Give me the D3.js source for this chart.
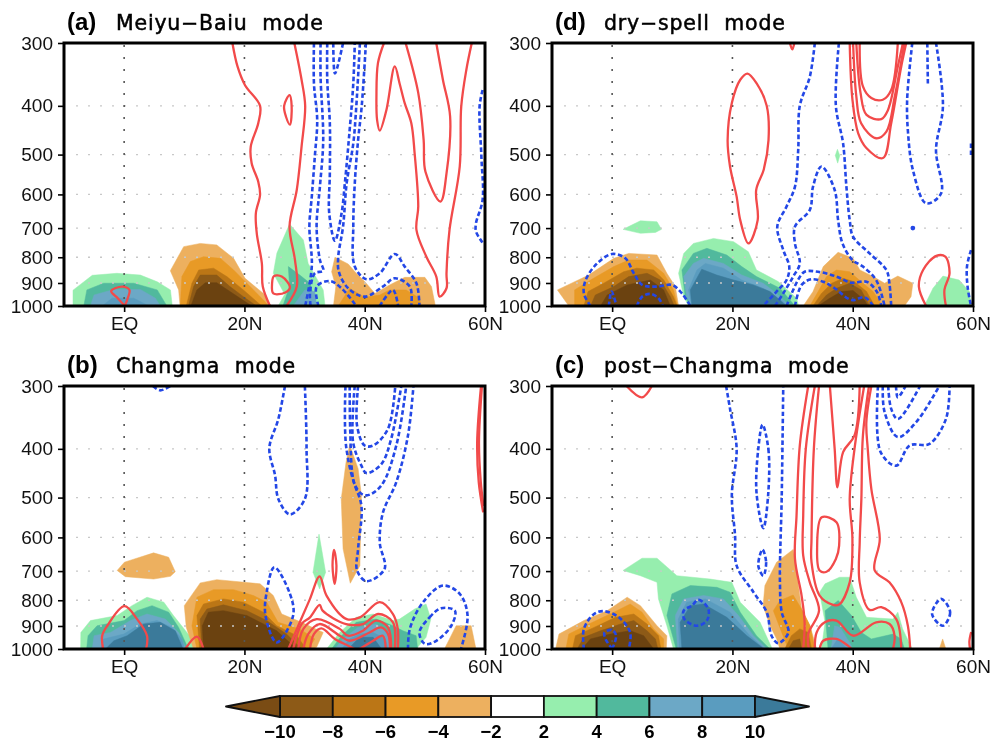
<!DOCTYPE html>
<html>
<head>
<meta charset="utf-8">
<script src="https://cdn.jsdelivr.net/npm/d3@7"></script>
<style>
  html, body { margin: 0; padding: 0; background: #fff; }
  svg { display: block; filter: blur(0.35px); }
</style>
</head>
<body>
<div id="chart"></div>
<script>
// shading classes, darkest brown to dark blue
const levelColors = ["#6b4210", "#8d5a17", "#bb7616", "#e89a26", "#edb05f", "#96eeae", "#51b99d", "#6ca8c6", "#5a9cbf", "#3b7a9a"];
const legendTicks = ["−10", "−8", "−6", "−4", "−2", "2", "4", "6", "8", "10"];
const legendBoxes = ["#8d5a17", "#bb7616", "#e89a26", "#edb05f", "#ffffff", "#96eeae", "#51b99d", "#6ca8c6", "#5a9cbf"];
const pressureTicks = [300, 400, 500, 600, 700, 800, 900, 1000];
const latTicks = [0, 20, 40, 60];
const latLabels = ["EQ", "20N", "40N", "60N"];

// every point below is [latitude, hPa]
const aFill = [
  [5, [[-8.5,1000],[-8.5,930],[-5.3,869],[-1.2,861],[2.7,868],[5.5,895],[7.7,929],[8,1000]]],
  [6, [[-6.7,1000],[-6.2,929],[-3.4,901],[1.6,901],[5.5,929],[7.1,1000]]],
  [7, [[-5.6,1000],[-5,951],[-1.7,927],[2.7,927],[5.2,965],[6,1000]]],
  [8, [[-3.65,1000],[-2,965],[1.6,965],[4.1,1000]]],
  [4, [[9.3,1000],[9.06,929],[7.68,851],[9.9,762],[12.65,751],[15.4,756],[18.2,804],[20.1,881],[23.15,944],[24.4,1000]]],
  [3, [[9.34,1000],[9.6,874],[11,816],[13.2,798],[16,804],[18.2,848],[20.4,901],[23.4,980],[24,1000]]],
  [2, [[10.33,1000],[11.27,901],[12.4,848],[14.86,841],[17.07,874],[19.83,929],[22.87,1000]]],
  [1, [[10.7,1000],[11.55,915],[12.65,868],[15.4,868],[17.6,915],[19.83,958],[22,1000]]],
  [0, [[11.1,1000],[12.1,929],[13.5,899],[15.4,899],[17.9,941],[20.1,980],[21.2,1000]]],
  [5, [[27.5,687],[29.8,739],[30.6,823],[33.1,929],[33.4,1000],[25.6,1000],[26.7,948],[24.8,861],[25.4,785]]],
  [6, [[27.3,835],[29.2,868],[30.9,901],[31.9,1000],[26.4,1000],[27.5,915]]],
  [7, [[28.1,1000],[30.05,929],[31.7,937],[32,1000]]],
  [4, [[35.05,800],[37.25,825],[38.6,861],[40,894],[41.7,944],[44.15,908],[46.65,877],[50,877],[51.1,915],[51.75,1000],[34.8,1000],[35.2,915],[34.5,855]]],
  [3, [[35.6,1000],[37.5,922],[40,961],[42.5,951],[44.15,929],[46.9,929],[49.1,965],[49.4,1000]]]
];
const aRed = [
  [[0.1,1000],[-1.05,965],[-2.15,934],[-0.33,915],[0.88,929],[0.6,965],[0.1,1000]],
  [[18,300],[18.85,334],[20.1,364],[22.6,400],[22.3,433],[21.05,482],[21.2,520],[22.3,566],[22.6,601],[21.9,654],[22.05,717],[22.9,823],[23.05,915],[24.25,1000]],
  [[28.3,300],[29.5,355],[30.1,400],[29.5,482],[28.7,588],[27.5,695],[28.4,810],[28.7,915],[27,1000]],
  [[43.2,300],[42.2,329],[41.95,383],[42.06,427],[42.5,448],[43.6,408],[45,334],[45.8,361],[46.65,395],[47.75,433],[48.3,497],[48.9,634],[48.6,706],[50.25,798],[51.9,874],[52.45,958],[53.6,922],[53.6,861],[54.1,706],[55.8,528],[56.05,401],[56.9,339],[57.8,300]],
  [[46.8,300],[48.9,377],[49.8,468],[50.1,541],[52.6,620],[53.6,545],[54.2,420],[53,355],[51.9,300]]
];
const aRedLoops = [
  [[27.5,381],[27.85,400],[27.57,436],[26.9,420],[26.6,400]],
  [[24.9,872],[26.2,874],[27.57,918],[26.7,941],[24.8,944],[24.6,901]]
];
const aBlue = [
  [[31.56,300],[31.56,361],[32.1,427],[31.7,505],[31.2,606],[30.8,695],[31.2,835],[30.1,1000]],
  [[32.66,300],[32.66,350],[33.1,468],[32.55,579],[32,695],[32.55,810],[33.1,851],[31.7,861],[30.9,944],[31,1000]],
  [[33.77,300],[33.77,355],[34.2,433],[34.2,545],[34.1,654],[35.05,742],[36.15,654],[36.7,570],[37.5,446],[38.1,361],[38.35,300]],
  [[34.77,300],[35.05,345],[36.4,300]],
  [[39.2,300],[38.6,401],[38.1,475],[37,570],[36.4,695],[35.6,798],[35.7,855],[37.25,922],[40,958],[43,915],[45,881],[47.5,915],[47.75,1000]],
  [[40.2,300],[39.5,401],[38.9,468],[38.35,570],[38.1,695],[38.35,835],[40.3,885],[42.5,861],[45,788],[46.65,835],[48.6,901],[49.1,1000]],
  [[32.3,1000],[32,915],[34.2,892],[36.15,922],[38.6,1000]],
  [[42.5,1000],[44.7,929],[45.55,1000]],
  [[59.6,372],[59.1,401],[59.4,505],[59.6,615],[58.5,685],[58.5,711],[59.75,753]]
];
const aBlueLoops = [];

const bFill = [
  [4, [[-1.16,698],[0.05,672],[4.9,644],[7.4,657],[8.5,702],[7.7,717],[4.9,726],[0.2,718]]],
  [4, [[37.5,393],[38.9,438],[39.45,495],[39.2,683],[37.6,740],[36.4,632],[36.1,503],[36.9,425]]],
  [5, [[32.4,591],[33.5,704],[32.5,760],[31.4,704]]],
  [5, [[-7.24,1000],[-7.2,927],[-5.6,878],[-1.16,858],[1.3,820],[3.8,789],[6.6,807],[8.2,858],[11.3,955],[11.55,1000]]],
  [6, [[-6.24,1000],[-6,941],[-4.5,899],[0,878],[2.15,839],[4.64,820],[7.4,845],[9.06,906],[10.44,985],[10.9,1000]]],
  [7, [[-5.3,1000],[-5,941],[-2.26,927],[1.05,878],[3.8,852],[6.85,872],[9.06,927],[10.33,1000]]],
  [8, [[-3.9,1000],[-3.4,955],[-0.05,934],[2.7,892],[5.47,878],[7.96,906],[9.6,955],[10.05,1000]]],
  [9, [[-3.1,1000],[-1.7,963],[0.5,941],[3.26,892],[6,885],[8.5,920],[9.8,1000]]],
  [4, [[11.55,1000],[10.33,906],[10,820],[12.65,739],[15.4,728],[22.6,742],[24.8,783],[26.2,852],[29.5,885],[33.1,927],[32,992],[31.4,1000]]],
  [3, [[12.1,1000],[11.27,899],[12.1,789],[14.86,762],[18.2,762],[21.5,783],[23.7,807],[25.6,885],[29.2,912],[31.7,955],[30.6,1000]]],
  [2, [[12.54,1000],[12.1,858],[13.2,814],[16.5,795],[19.8,807],[23.15,845],[25.36,899],[28.7,941],[30.3,1000]]],
  [1, [[12.9,1000],[12.65,872],[13.76,833],[16.5,817],[20.4,839],[23.7,878],[27,934],[29.5,1000]]],
  [0, [[13.2,1000],[13,899],[14,845],[16.5,839],[20.4,858],[25.36,920],[28.7,1000]]],
  [5, [[33.65,1000],[35.85,927],[38.6,865],[41.4,852],[44.7,878],[45.8,872],[48.3,833],[50.2,814],[51,872],[50.2,948],[48.55,1000]]],
  [6, [[34.5,1000],[36.15,941],[38.6,885],[41.9,872],[44.7,899],[46.35,920],[48.55,941],[48.8,1000]]],
  [7, [[35.03,1000],[36.4,955],[38.9,906],[41.9,892],[44.15,927],[44.4,1000]]],
  [8, [[36.15,1000],[37.5,955],[39.15,934],[41.4,927],[43.5,955],[43.9,1000]]],
  [9, [[37.24,1000],[39.15,948],[41.4,948],[42.8,1000]]],
  [4, [[53.26,1000],[55.2,899],[57.7,899],[58.5,1000]]]
];
const bRed = [
  [[-3.5,1000],[-3.65,941],[-2.8,899],[0.05,822],[2.15,872],[3.8,941],[3.65,1000]],
  [[10.17,1000],[12.1,945],[13.2,1000]],
  [[27.3,1000],[29.2,885],[30.9,795],[32.5,717],[33.65,783],[37,872],[39.2,865],[42.5,807],[44.7,852],[45.5,912],[45.5,1000]],
  [[28.1,1000],[29.5,892],[30.9,865],[32.5,817],[33,839],[36.9,892],[39.7,892],[42.2,852],[44.7,885],[45,1000]],
  [[28.95,1000],[29.8,912],[32,872],[35.85,912],[37.25,941],[39.7,920],[41.9,878],[43.87,906],[44.4,1000]],
  [[29.8,1000],[30.6,934],[32.5,892],[35.85,941],[37.5,963],[40.8,927],[42.7,906],[43.87,934],[44.2,1000]],
  [[30.9,1000],[31.55,934],[32.8,910],[35.03,955],[37.24,985],[38.3,1000]],
  [[39.15,1000],[41.4,963],[43,941],[43.5,1000]],
  [[59.34,300],[58.7,388],[58.96,466],[59.7,535]],
  [[59.5,300],[59,388],[59.3,466],[59.75,520]]
];
const bRedLoops = [
  [[34.9,635],[35.3,683],[35,742],[34.65,683]]
];
const bBlue = [
  [[4.8,300],[6,306],[7.7,300]],
  [[26.74,300],[25.64,349],[24.14,399],[25.1,452],[25.64,503],[27.57,540],[30.05,503],[30.33,399],[30.05,300]],
  [[37.5,300],[37.6,371],[38.07,459],[39.45,519],[38.9,632],[38.73,698],[40.3,733],[43.3,693],[42.5,614],[43.04,535],[45.25,466],[47.2,376],[48.1,300]],
  [[36.8,300],[36.96,400],[38.9,484],[40.3,495],[42.76,473],[45.25,394],[46.9,300]],
  [[38.34,300],[38.07,388],[39.45,432],[40.3,447],[42.76,429],[44.4,382],[46.08,300]],
  [[38.9,300],[38.73,360],[40,394],[41.4,394],[43.87,365],[45.08,300]],
  [[47.2,1000],[47.5,912],[49.7,807],[53,748],[55.8,777],[57.1,858],[56,1000]]
];
const bBlueLoops = [
  [[24.97,688],[27.57,777],[28.1,858],[25.36,970],[23.5,858],[23.7,771]],
  [[49.1,927],[50.8,865],[52.7,830],[55,839],[54.4,899],[51.9,963],[50,977]]
];

const cFill = [
  [4, [[-9.4,1000],[-8.84,934],[-4.7,878],[-0.83,839],[2.5,789],[4.7,820],[7.46,899],[9.1,941],[9,1000]]],
  [3, [[-7.7,1000],[-7.2,934],[-3.87,892],[0.28,845],[3,814],[4.97,845],[6.9,912],[8.56,955],[8.56,1000]]],
  [2, [[-6.6,1000],[-6.1,941],[-3,906],[0.55,865],[3.6,852],[5.8,892],[7.7,941],[8.1,1000]]],
  [1, [[-5.8,1000],[-4.7,948],[-1.93,920],[1.4,892],[3.6,878],[5.8,920],[7.2,955],[7.6,1000]]],
  [0, [[-5,1000],[-3.6,955],[-0.28,934],[3,920],[5.25,941],[6.9,1000]]],
  [5, [[1.82,698],[4.97,660],[7.46,660],[10.77,715],[16.3,726],[19.9,737],[21.3,807],[24.6,885],[26.5,992],[26.7,1000],[10.2,1000],[9.1,899],[7.7,795],[7.46,737],[4.7,715]]],
  [6, [[10.66,1000],[9.1,858],[9.94,777],[13,748],[17.4,754],[19.6,771],[21.3,845],[24,941],[26.24,1000]]],
  [7, [[10.9,1000],[10.5,858],[11.9,795],[15.2,783],[18.5,795],[21,858],[23.5,941],[25.7,1000]]],
  [8, [[11.2,1000],[11,872],[12.4,807],[15.5,795],[19.6,845],[22.9,941],[25.4,1000]]],
  [9, [[11.6,1000],[11.3,885],[13,820],[15.2,814],[19.06,865],[22.4,941],[24.9,992],[25.1,1000]]],
  [4, [[30.1,634],[27.35,672],[25.4,748],[25.1,820],[26.25,899],[27.35,955],[27.9,1000],[34,1000],[32.9,899],[31.5,833],[30.9,737],[30.4,662]]],
  [3, [[26.8,839],[27.9,801],[30.1,781],[31.5,833],[32.9,899],[33.7,1000],[29.3,1000],[28.2,927]]],
  [2, [[28.7,1000],[29.8,941],[31.2,912],[32.6,927],[33.15,1000]]],
  [1, [[29.3,1000],[30.1,963],[31.2,955],[31.5,1000]]],
  [5, [[34.5,771],[35.4,742],[37.8,720],[39.5,720],[40.6,789],[42.3,865],[46.7,872],[47.5,845],[48.3,912],[49.9,1000],[34.8,1000],[35.4,885]]],
  [6, [[35.4,839],[37.6,801],[39.8,858],[41.44,927],[43.1,955],[46.7,934],[48.06,955],[48.6,1000],[35.9,1000]]],
  [7, [[37,899],[37.9,906],[39.8,985],[39.5,1000],[36.4,1000]]],
  [8, [[36.4,1000],[37.5,955],[39.1,1000]]],
  [4, [[54.4,1000],[54.95,955],[55.5,1000]]]
];
const cRed = [
  [[2.4,300],[4.97,316],[6.6,300]],
  [[59.5,1000],[59.4,965],[59.7,925]],
  [[32.6,300],[31.2,394],[30.66,543],[30.4,662],[31.5,783],[32,885],[31.77,1000]],
  [[33.7,300],[32.2,400],[31.77,543],[31.77,652],[32.87,737],[34.4,839],[32.6,934],[32.7,1000]],
  [[34.4,300],[33.54,400],[33.15,604],[33.15,672],[34.5,783],[36.74,817],[37.74,816],[39.5,737],[39.95,604],[39.5,503],[40.3,400],[41.9,300]],
  [[36.2,300],[37,400],[37.46,477],[38.4,406],[40.3,376],[41.16,300]],
  [[42.7,300],[41.7,376],[41.44,503],[41.16,614],[41.16,737],[42.8,836],[44.75,826],[47.24,872],[48.07,1000]],
  [[43.1,300],[42.27,354],[42.5,400],[43.1,481],[44.5,604],[43.65,698],[46.1,737],[48.07,807],[49.17,899],[49.56,1000]],
  [[33.7,1000],[34,927],[35.36,885],[37.3,878],[40.06,941],[43.9,885],[46.13,892],[46.96,941],[46.7,1000]],
  [[34.5,1000],[35.1,963],[37.3,955],[39.2,985],[39.8,1000]]
];
const cRedLoops = [
  [[34.85,547],[37.3,560],[37.74,623],[37.2,662],[35.65,702],[34.5,698],[34.08,632]]
];
const cBlue = [
  [[18.95,300],[19.6,333],[20.7,400],[19.9,495],[20.44,595],[20.7,683],[23.5,771],[25.7,845],[26.5,941],[27.6,974],[29.3,927],[28.2,845],[27.9,737],[28.2,495],[28.45,300]],
  [[-4.7,1000],[-4.7,912],[-3,852],[-1.4,841],[1.1,865],[3,927],[2.76,1000]],
  [[0,1000],[-1.1,955],[-1.27,927],[0,917],[0.66,941],[0,1000]],
  [[47.2,300],[47.5,316],[48.8,300]],
  [[45.9,300],[46.4,333],[47.5,349],[51.2,300]],
  [[45,300],[45.3,338],[47.5,379],[50.55,354],[54.4,300]],
  [[44.2,300],[44.64,406],[47.24,432],[49.45,394],[52.76,391],[55.5,349],[56.1,300]]
];
const cBlueLoops = [
  [[25,358],[25.97,400],[25.97,488],[25.14,575],[24,488],[24.3,400]],
  [[25,634],[25.6,672],[25.14,715],[24.3,683]],
  [[13.26,820],[14.36,798],[16,833],[15.75,878],[14.1,899],[12,872],[11.9,839]],
  [[54.7,795],[56.2,845],[55,899],[53.2,852]]
];

const dFill = [
  [4, [[-9.1,929],[-3.9,868],[0.28,804],[2.76,786],[7.46,792],[9.1,861],[10.5,915],[11.05,1000],[-7.2,1000]]],
  [3, [[-6.24,1000],[-6.24,929],[-3.6,888],[0.28,835],[2.76,810],[5.8,810],[8.56,861],[10.2,929],[10.9,1000]]],
  [2, [[-4.7,1000],[-4,936],[-1.4,901],[1.9,855],[4.1,841],[6.9,848],[8.6,888],[10.2,958],[10.8,1000]]],
  [1, [[-3.6,1000],[-2.8,951],[0.28,915],[2.76,874],[5.8,861],[8,888],[9.67,958],[10.33,1000]]],
  [0, [[-1.93,1000],[-0.83,951],[2.5,908],[6.35,888],[8.56,929],[9.67,1000]]],
  [5, [[1.82,704],[4.7,677],[7.46,680],[8.2,704],[7.2,714],[4.7,717]]],
  [5, [[37.46,488],[37.85,502],[37.5,520],[37.1,502]]],
  [5, [[12.7,1000],[11.9,958],[11.05,861],[11.9,786],[13.5,751],[16.85,734],[20.2,745],[22.65,780],[24,848],[27.6,894],[30.66,965],[31,1000]]],
  [6, [[13,1000],[12.15,958],[11.6,848],[13.5,786],[15.75,768],[19.06,792],[21.55,835],[24,874],[27.9,922],[30.4,1000]]],
  [7, [[13.26,1000],[12.4,958],[11.9,874],[13.5,823],[15.2,804],[18.5,823],[21.55,868],[25.1,901],[27.35,944],[29.55,1000]]],
  [8, [[13.26,1000],[12.7,929],[14.1,848],[15.5,823],[18.5,841],[21.55,888],[25.1,922],[28.45,980],[29,1000]]],
  [9, [[13.26,1000],[13,929],[14.9,845],[17.4,868],[20.2,888],[23.5,908],[26.25,936],[29,1000]]],
  [4, [[31.77,1000],[33.4,936],[35.1,835],[37.57,782],[40.05,804],[41.2,848],[43.4,874],[45.3,901],[47.5,872],[50,901],[49.7,958],[48.6,1000]]],
  [3, [[32.87,1000],[34.25,936],[35.65,874],[37.3,848],[39.5,855],[41.7,901],[43.4,936],[45,1000]]],
  [2, [[33.4,1000],[34.8,944],[36.5,901],[38.4,881],[40.3,895],[42.3,936],[43.65,1000]]],
  [1, [[34,1000],[35.65,951],[37.3,922],[39.5,901],[41.4,929],[42.8,1000]]],
  [0, [[34.25,1000],[36.2,965],[38.1,936],[40.05,932],[41.95,973],[42.5,1000]]],
  [5, [[51.9,1000],[53.35,922],[55,872],[57.7,888],[59.4,936],[59.7,1000]]]
];
const dRed = [
  [[29.56,300],[29.95,309],[30.3,300]],
  [[39.5,300],[39.96,389],[40.9,453],[42.27,485],[45.03,508],[46.4,433],[48.07,334],[48.9,300]],
  [[40.06,300],[40.6,383],[41.4,433],[43.9,464],[45.6,450],[47,383],[48.6,300]],
  [[40.6,300],[41.3,377],[42.3,417],[44.75,425],[45.85,408],[47.5,334],[48.35,300]],
  [[41.16,300],[41.7,366],[43.1,386],[45,389],[46.4,372],[47.5,300]],
  [[52.2,1000],[51,915],[51.7,848],[53.9,795],[55.4,798],[56.1,861],[55.25,929],[55.5,1000]]
];
const dRedLoops = [
  [[22.5,345],[24.03,361],[25.7,400],[26,468],[25.2,536],[23.95,588],[24.2,675],[22.66,751],[21.3,675],[20.7,606],[19.6,528],[19.2,468],[19.9,395],[21.3,355]]
];
const dBlue = [
  [[-3.6,1000],[-4.7,944],[-4.4,888],[-2.5,823],[0,788],[2.2,804],[3.6,861],[5,908],[7.46,915],[9.97,908],[11.6,944],[13,1000]],
  [[-0.55,1000],[-0.1,936],[0.72,1000]],
  [[4.1,1000],[5,958],[6.35,946],[7.7,965],[8.45,1000]],
  [[33.7,300],[32.87,350],[31.2,400],[30.94,489],[30.4,579],[29,634],[27.46,695],[28.45,774],[29.45,835],[29,888],[27.6,929],[25.1,1000]],
  [[27.07,1000],[28.45,944],[30.1,874],[31.2,823],[30.4,751],[30.4,695],[32.87,644],[33.4,579],[34.8,528],[37,588],[37.57,675],[38.3,751],[39.95,810],[41.7,835],[43.9,888],[45.3,1000]],
  [[37.7,300],[37.2,400],[38.4,475],[38.95,579],[39.5,675],[40.06,728],[42.8,786],[45.6,848],[46.1,901],[46.4,1000]],
  [[29,1000],[30.9,888],[32,855],[34.25,855],[37.3,874],[39.8,899],[42.3,895],[44,936],[44.75,1000]],
  [[30.4,1000],[31.5,908],[33.1,885],[35.1,895],[37,922],[39.8,973],[42,961],[43.4,1000]],
  [[49.9,300],[49.05,389],[49.2,453],[50,536],[52.2,625],[54.7,597],[53.85,489],[55,401],[53.85,300]],
  [[52.4,300],[52.5,364]],
  [[59.67,475],[59.67,501]],
  [[59.67,774],[59,835],[59.1,915],[59.67,1000]]
];
const dBlueLoops = [];
// the lone blue dot at 50N, 700 hPa
const dDot = [[50, 700]];

const panels = [
  {tag: "(a)", title: "Meiyu−Baiu  mode", left: 64, top: 43, fill: aFill, red: aRed, redLoops: aRedLoops, blue: aBlue, blueLoops: aBlueLoops, dots: []},
  {tag: "(d)", title: "dry−spell  mode", left: 552, top: 43, fill: dFill, red: dRed, redLoops: dRedLoops, blue: dBlue, blueLoops: dBlueLoops, dots: dDot},
  {tag: "(b)", title: "Changma  mode", left: 64, top: 386, fill: bFill, red: bRed, redLoops: bRedLoops, blue: bBlue, blueLoops: bBlueLoops, dots: []},
  {tag: "(c)", title: "post−Changma  mode", left: 552, top: 386, fill: cFill, red: cRed, redLoops: cRedLoops, blue: cBlue, blueLoops: cBlueLoops, dots: []}
];

const panelW = 421, panelH = 263;
const redColor = "#f24a4a", blueColor = "#2347e6";
const blueDash = "4.6 2.6";
const tickFont = "'Liberation Sans', Arial, sans-serif";

const x = d3.scaleLinear().domain([-10, 60]).range([0, panelW]);
const y = d3.scaleLog().domain([300, 1000]).range([0, panelH]);

const svg = d3.select("#chart").append("svg").attr("width", 1003).attr("height", 741);

const openLine = d3.line().x(d => x(d[0])).y(d => y(d[1])).curve(d3.curveCatmullRom.alpha(0.5));
const loopLine = d3.line().x(d => x(d[0])).y(d => y(d[1])).curve(d3.curveCatmullRomClosed.alpha(0.5));
const polyLine = d3.line().x(d => x(d[0])).y(d => y(d[1]));

panels.forEach((p, i) => {
  const g = svg.append("g").attr("transform", "translate(" + p.left + "," + p.top + ")");
  svg.append("clipPath").attr("id", "clip" + i)
    .append("rect").attr("width", panelW).attr("height", panelH);
  const plot = g.append("g").attr("clip-path", "url(#clip" + i + ")");

  plot.selectAll("path.fill")
    .data(p.fill)
    .enter()
    .append("path")
    .attr("class", "fill")
    .attr("d", d => polyLine(d[1]) + "Z")
    .attr("fill", d => levelColors[d[0]])
    .attr("stroke", d => levelColors[d[0]])
    .attr("stroke-width", 0.5)
    .attr("stroke-linejoin", "round");

  // dotted grid sits above the shading
  plot.selectAll("line.hgrid")
    .data(pressureTicks.slice(1, -1))
    .enter()
    .append("line")
    .attr("class", "hgrid")
    .attr("x1", 12).attr("x2", panelW)
    .attr("y1", d => y(d)).attr("y2", d => y(d))
    .attr("stroke", "#c8c8c8").attr("stroke-width", 1.4).attr("stroke-dasharray", "2 10");
  plot.selectAll("line.vgrid")
    .data(latTicks.slice(0, -1))
    .enter()
    .append("line")
    .attr("class", "vgrid")
    .attr("x1", d => x(d)).attr("x2", d => x(d))
    .attr("y1", 2).attr("y2", panelH)
    .attr("stroke", "#555").attr("stroke-width", 1.6).attr("stroke-dasharray", "2 10");

  const drawLines = (lines, gen, color, dash, width) => {
    plot.append("g").selectAll("path")
      .data(lines)
      .enter()
      .append("path")
      .attr("d", gen)
      .attr("fill", "none")
      .attr("stroke", color)
      .attr("stroke-width", width)
      .attr("stroke-dasharray", dash);
  };
  drawLines(p.red, openLine, redColor, null, 2.3);
  drawLines(p.redLoops, loopLine, redColor, null, 2.3);
  drawLines(p.blue, openLine, blueColor, blueDash, 2.6);
  drawLines(p.blueLoops, loopLine, blueColor, blueDash, 2.6);
  plot.append("g").selectAll("circle")
    .data(p.dots)
    .enter()
    .append("circle")
    .attr("cx", d => x(d[0])).attr("cy", d => y(d[1])).attr("r", 2.4)
    .attr("fill", blueColor);

  g.append("rect")
    .attr("width", panelW).attr("height", panelH)
    .attr("fill", "none").attr("stroke", "#000").attr("stroke-width", 3);

  const yAxis = d3.axisLeft(y).tickValues(pressureTicks).tickFormat(d3.format("d")).tickSize(6).tickPadding(5);
  const xAxis = d3.axisBottom(x).tickValues(latTicks).tickFormat((d, j) => latLabels[j]).tickSize(6).tickPadding(5);
  const ya = g.append("g").call(yAxis);
  const xa = g.append("g").attr("transform", "translate(0," + panelH + ")").call(xAxis);
  [ya, xa].forEach(a => {
    a.select(".domain").remove();
    a.selectAll("line").attr("stroke", "#000").attr("stroke-width", 1.6);
    a.selectAll("text").attr("font-family", tickFont).attr("font-size", 19).attr("fill", "#111");
  });

  g.append("text")
    .attr("x", 3).attr("y", -13)
    .attr("font-family", "'Liberation Sans', Arial, sans-serif")
    .attr("font-weight", "bold").attr("font-size", 24)
    .text(p.tag);
  g.append("text")
    .attr("x", 52).attr("y", -13)
    .attr("font-family", "'DejaVu Sans', sans-serif")
    .attr("font-size", 20.5)
    .attr("letter-spacing", 0.8)
    .attr("stroke", "#000").attr("stroke-width", 0.5)
    .style("white-space", "pre")
    .text(p.title);
});

// colour bar
const barX = d3.scalePoint().domain(legendTicks).range([280, 755]);
const barTop = 696, barH = 21;
const bar = svg.append("g");
bar.selectAll("rect")
  .data(legendBoxes)
  .enter()
  .append("rect")
  .attr("x", (d, i) => barX(legendTicks[i]))
  .attr("y", barTop)
  .attr("width", barX.step())
  .attr("height", barH)
  .attr("fill", d => d)
  .attr("stroke", "#111")
  .attr("stroke-width", 1.8);
const endTip = 54;
bar.append("path")
  .attr("d", d3.line()([[barX("−10"), barTop], [barX("−10") - endTip, barTop + barH / 2], [barX("−10"), barTop + barH]]) + "Z")
  .attr("fill", "#7a4c14").attr("stroke", "#111").attr("stroke-width", 1.8).attr("stroke-linejoin", "round");
bar.append("path")
  .attr("d", d3.line()([[barX("10"), barTop], [barX("10") + endTip, barTop + barH / 2], [barX("10"), barTop + barH]]) + "Z")
  .attr("fill", levelColors[9]).attr("stroke", "#111").attr("stroke-width", 1.8).attr("stroke-linejoin", "round");
bar.selectAll("text")
  .data(legendTicks)
  .enter()
  .append("text")
  .attr("x", d => barX(d))
  .attr("y", 738)
  .attr("text-anchor", "middle")
  .attr("font-family", tickFont)
  .attr("font-weight", "bold")
  .attr("font-size", 18.5)
  .text(d => d);
</script>
</body>
</html>
